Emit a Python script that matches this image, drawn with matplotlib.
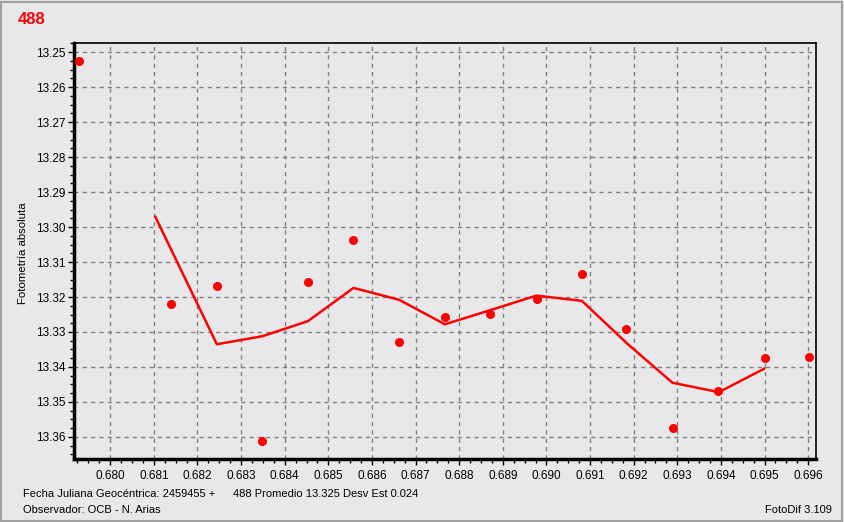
import matplotlib.pyplot as plt
from matplotlib.ticker import MultipleLocator, FormatStrFormatter
from matplotlib.patches import Rectangle

plt.rcParams['font.family'] = ['Liberation Sans', 'DejaVu Sans']

# observed magnitudes (JD - 2459455)
jd = [0.679289, 0.681398, 0.682453, 0.683484, 0.684539, 0.685570, 0.686625, 0.687679,
      0.688711, 0.689788, 0.690819, 0.691828, 0.692905, 0.693937, 0.695014, 0.696023]
mag = [13.2526, 13.3220, 13.3169, 13.3611, 13.3157, 13.3037, 13.3329, 13.3257,
       13.3249, 13.3206, 13.3134, 13.3291, 13.3574, 13.3469, 13.3374, 13.3371]

# smoothed curve
jd_avg = [0.681036, 0.682445, 0.683491, 0.684532, 0.685577, 0.686625, 0.687672,
          0.688727, 0.689772, 0.690813, 0.691851, 0.692890, 0.693953, 0.694991]
mag_avg = [13.2971, 13.3335, 13.3312, 13.3269, 13.3174, 13.3208, 13.3278,
           13.3237, 13.3196, 13.3211, 13.3333, 13.3445, 13.3472, 13.3405]

bg = "#e8e8ea"
fig = plt.figure(figsize=(8.44, 5.22), dpi=100, facecolor=bg)
ax = fig.add_axes([74 / 844, 1 - 459 / 522, (816 - 74) / 844, (459 - 43) / 522])
ax.set_facecolor(bg)

ax.plot(jd_avg, mag_avg, color="red", lw=1.8, zorder=3)
ax.plot(jd, mag, "o", color="red", ms=5.5, zorder=4)

ax.set_xlim(0.67917, 0.69618)
ax.set_ylim(13.3663, 13.2474)
ax.xaxis.set_major_locator(MultipleLocator(0.001))
ax.xaxis.set_minor_locator(MultipleLocator(0.00025))
ax.yaxis.set_major_locator(MultipleLocator(0.01))
ax.yaxis.set_minor_locator(MultipleLocator(0.0025))
ax.xaxis.set_major_formatter(FormatStrFormatter("%.3f"))
ax.yaxis.set_major_formatter(FormatStrFormatter("%.2f"))
ax.tick_params(which="major", length=4, width=1, labelsize=8.5, color="black")
ax.tick_params(axis="x", which="major", pad=4)
ax.tick_params(axis="y", which="major", pad=2)
ax.tick_params(which="minor", length=3, width=1, color="black")
ax.grid(True, which="major", color="#808080", ls=(0, (3, 3)), lw=1)

for s in ["left", "bottom"]:
    ax.spines[s].set_linewidth(2.5)
for s in ["top", "right"]:
    ax.spines[s].set_linewidth(1.2)

ax.set_ylabel("Fotometría absoluta", fontsize=8.2)
ax.yaxis.set_label_coords(-0.062, 0.495)

fig.text(18 / 844, 1 - 19 / 522, "488", color="red", fontsize=12, fontweight="bold", va="center")
fig.text(23 / 844, 1 - 494 / 522, "Fecha Juliana Geocéntrica: 2459455 +", fontsize=8, va="center")
fig.text(233 / 844, 1 - 494 / 522, "488 Promedio 13.325 Desv Est 0.024", fontsize=8, va="center")
fig.text(23 / 844, 1 - 510 / 522, "Observador: OCB - N. Arias", fontsize=8, va="center")
fig.text(832 / 844, 1 - 510 / 522, "FotoDif 3.109", fontsize=8, va="center", ha="right")

fig.patches.append(Rectangle((0.001, 0.001), 0.997, 0.996, transform=fig.transFigure,
                             fill=False, edgecolor="#a0a0a0", lw=1.5))

fig.savefig("out.png", dpi=100, facecolor=bg)
